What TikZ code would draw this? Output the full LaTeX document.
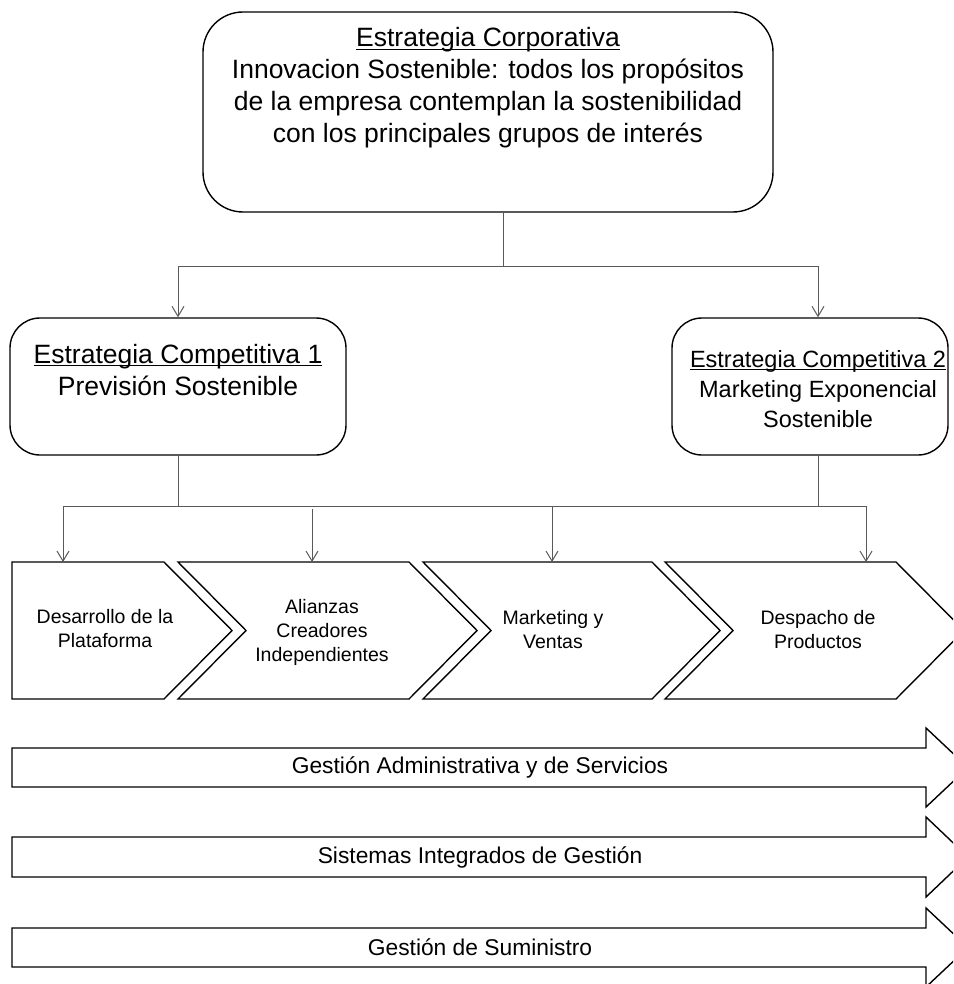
\documentclass[tikz,border=0pt]{standalone}
\usepackage{fontspec}
\setmainfont{Liberation Sans}
\usetikzlibrary{arrows.meta}
\newcommand\myul[1]{\setbox0\hbox{#1}\rlap{\rule[-3pt]{\wd0}{1.2pt}}\box0}
\begin{document}
\begin{tikzpicture}[x=1pt,y=-1pt,
  rbox/.style={draw=black, line width=1.4pt, rounded corners=#1, inner sep=0pt},
  bigtext/.style={align=center, font=\fontsize{26.5}{32}\selectfont, inner sep=0pt},
  midtext/.style={align=center, font=\fontsize{23.5}{30}\selectfont, inner sep=0pt},
  chevtext/.style={align=center, font=\fontsize{19.5}{24}\selectfont, inner sep=0pt},
  bartext/.style={align=center, font=\fontsize{22.8}{27}\selectfont, inner sep=0pt},
  shapeline/.style={draw=black, line width=1.4pt, line join=miter},
  conn/.style={draw=black!65, line width=1pt},
  tipconn/.style={conn, -{Straight Barb[length=10pt,width=12pt]}}]
\useasboundingbox (0,0) rectangle (953,984);
\clip (0,0) rectangle (953,984);

% top box
\node[rbox=40pt, minimum width=570pt, minimum height=200pt] (corp) at (488,112) {};
\node[bigtext] (corpt) at (488,88) {\myul{Estrategia Corporativa}\\Innovacion Sostenible: todos los propósitos\\de la empresa contemplan la sostenibilidad\\con los principales grupos de interés};

% competitive strategy boxes
\node[rbox=30pt, minimum width=336pt, minimum height=137pt] (s1) at (178,386.5) {};
\node[bigtext] (s1t) at (178,370) {\myul{Estrategia Competitiva 1}\\Previsión Sostenible};
\node[rbox=30pt, minimum width=276pt, minimum height=137pt] (s2) at (810,386.5) {};
\node[midtext] (s2t) at (818,389) {\myul{Estrategia Competitiva 2}\\Marketing Exponencial\\Sostenible};

% upper connectors
\coordinate (j1) at (503,266);
\draw[conn] ([xshift=15pt]corp.south) -- (j1);
\draw[tipconn] (j1) -| (s1.north);
\draw[tipconn] (j1) -| ([xshift=8pt]s2.north);

% chevrons
\draw[shapeline] (12,562) -- (164,562) -- (232,630.5) -- (164,699) -- (12,699) -- cycle;
\draw[shapeline] (178,562) -- (409,562) -- (477,630.5) -- (409,699) -- (178,699) -- (246,630.5) -- cycle;
\draw[shapeline] (423,562) -- (652,562) -- (720,630.5) -- (652,699) -- (423,699) -- (491,630.5) -- cycle;
\draw[shapeline] (665,562) -- (896,562) -- (964,630.5) -- (896,699) -- (665,699) -- (733,630.5) -- cycle;
\node[chevtext] (c1) at (105,629) {Desarrollo de la\\Plataforma};
\node[chevtext] (c2) at (322,632) {Alianzas\\Creadores\\Independientes};
\node[chevtext] (c3) at (553,630) {Marketing y\\Ventas};
\node[chevtext] (c4) at (818,630) {Despacho de\\Productos};
\coordinate (c1top) at (63,562);
\coordinate (c2top) at (312,562);
\coordinate (c3top) at (552,562);
\coordinate (c4top) at (866,562);

% lower connectors
\coordinate (j2) at (178,506);
\coordinate (j3) at (818,506);
\draw[conn] (s1.south) -- (j2);
\draw[conn] ([xshift=8pt]s2.south) -- (j3);
\draw[conn] (c1top |- j2) -- (c4top |- j2);
\draw[tipconn] (c1top |- j2) -- (c1top);
\draw[tipconn] ([yshift=-3pt]c2top |- j2) -- (c2top);
\draw[tipconn] (c3top |- j2) -- (c3top);
\draw[tipconn] (c4top |- j2) -- (c4top);

% support bars
\draw[shapeline] (12,748) -- (926,748) -- (926,728) -- (968,767.5) -- (926,807) -- (926,787) -- (12,787) -- cycle;
\node[bartext] (b1) at (480,767.5) {Gestión Administrativa y de Servicios};
\draw[shapeline] (12,837) -- (926,837) -- (926,817) -- (968,857) -- (926,897) -- (926,877) -- (12,877) -- cycle;
\node[bartext] (b2) at (480,857) {Sistemas Integrados de Gestión};
\draw[shapeline] (12,928) -- (926,928) -- (926,908) -- (968,947.5) -- (926,987) -- (926,967) -- (12,967) -- cycle;
\node[bartext] (b3) at (480,947.5) {Gestión de Suministro};
\end{tikzpicture}
\end{document}
